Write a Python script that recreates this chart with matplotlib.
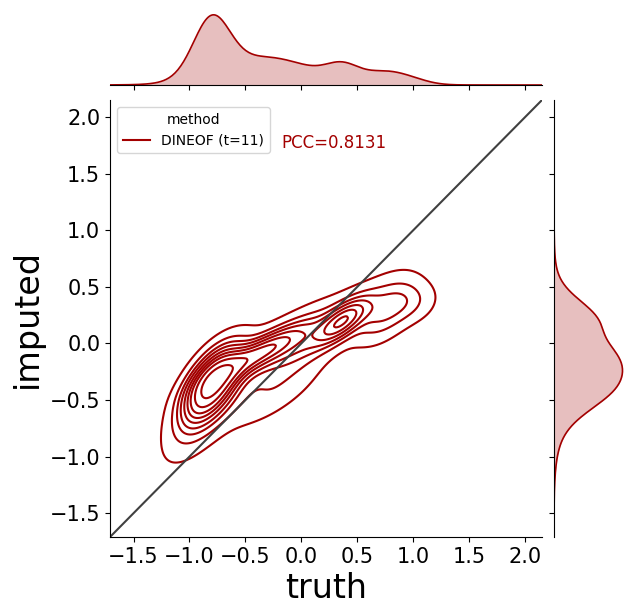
import numpy as np
import matplotlib
matplotlib.use("Agg")
import matplotlib.pyplot as plt
from matplotlib.lines import Line2D

# ---- data: bivariate density described as a mixture of Gaussian components
comp_x = [-0.80, -0.83, -0.40, 0.00, 0.37, 0.75, 1.00, -0.20, -0.25]
comp_y = [-0.36, -0.55, -0.10, 0.00, 0.20, 0.30, 0.36, -0.10, -0.45]
comp_sx = [0.16, 0.23, 0.26, 0.25, 0.15, 0.18, 0.15, 0.52, 0.28]
comp_sy = [0.20, 0.30, 0.16, 0.18, 0.13, 0.18, 0.12, 0.40, 0.20]
comp_rho = [0.60, 0.75, 0.85, 0.70, 0.70, 0.50, 0.20, 0.85, 0.75]
comp_w = [0.32, 0.09, 0.15, 0.08, 0.09, 0.08, 0.02, 0.11, 0.04]

lims = [-1.71, 2.15]
ticks = [-1.5, -1.0, -0.5, 0.0, 0.5, 1.0, 1.5, 2.0]
method_label = "DINEOF (t=11)"
pcc_text = "PCC=0.8131"

color = "#a30000"

W, H = 637, 615
fig = plt.figure(figsize=(W / 100, H / 100), dpi=100)
ax = fig.add_axes([110 / W, 78 / H, 432 / W, 437 / H])
axx = fig.add_axes([110 / W, 530 / H, 432 / W, 85 / H], sharex=ax)
axy = fig.add_axes([554 / W, 78 / H, 83 / W, 437 / H], sharey=ax)

g = np.linspace(lims[0], lims[1], 300)
X, Y = np.meshgrid(g, g)
Z = np.zeros_like(X)
px = np.zeros_like(g)
py = np.zeros_like(g)
for mx, my, sx, sy, r, w in zip(comp_x, comp_y, comp_sx, comp_sy, comp_rho, comp_w):
    dx = (X - mx) / sx
    dy = (Y - my) / sy
    q = (dx ** 2 - 2 * r * dx * dy + dy ** 2) / (1 - r ** 2)
    Z += w * np.exp(-0.5 * q) / (2 * np.pi * sx * sy * np.sqrt(1 - r ** 2))
    px += w * np.exp(-0.5 * ((g - mx) / sx) ** 2) / (sx * np.sqrt(2 * np.pi))
    py += w * np.exp(-0.5 * ((g - my) / sy) ** 2) / (sy * np.sqrt(2 * np.pi))

# iso-proportion levels (seaborn style, levels=10, thresh=0.05)
vals = np.sort(Z.ravel())[::-1]
cum = np.cumsum(vals) / vals.sum()
props = np.linspace(0.05, 1, 10)
idx = np.searchsorted(cum, 1 - props)
levels = np.unique(np.take(vals, idx, mode="clip"))
ax.contour(X, Y, Z, levels=levels, colors=color, linewidths=1.5)

ax.plot(lims, lims, color="#404040", lw=1.5)
ax.set_xlim(lims)
ax.set_ylim(lims)
ax.set_xticks(ticks)
ax.set_yticks(ticks)
ax.tick_params(labelsize=15)
ax.set_xlabel("truth", fontsize=24)
ax.set_ylabel("imputed", fontsize=24)
for s in ["top", "right"]:
    ax.spines[s].set_visible(False)

handle = Line2D([], [], color=color, lw=1.5)
ax.legend([handle], [method_label], title="method", loc="upper left", fontsize=10, title_fontsize=10)
ax.text(-0.18, 1.77, pcc_text, color=color, fontsize=12, va="center")

axx.fill_between(g, px, color=color, alpha=0.25, lw=0)
axx.plot(g, px, color=color, lw=1.2)
axx.set_ylim(0, px.max() * 86 / 71)
axy.fill_betweenx(g, py, color=color, alpha=0.25, lw=0)
axy.plot(py, g, color=color, lw=1.2)
axy.set_xlim(0, py.max() * 86 / 71)

for a in (axx, axy):
    for s in ["top", "right"]:
        a.spines[s].set_visible(False)
axx.spines["left"].set_visible(False)
axy.spines["bottom"].set_visible(False)
axx.tick_params(labelbottom=False, left=False, labelleft=False)
axy.tick_params(labelleft=False, bottom=False, labelbottom=False)

fig.savefig("out.png", dpi=100)
